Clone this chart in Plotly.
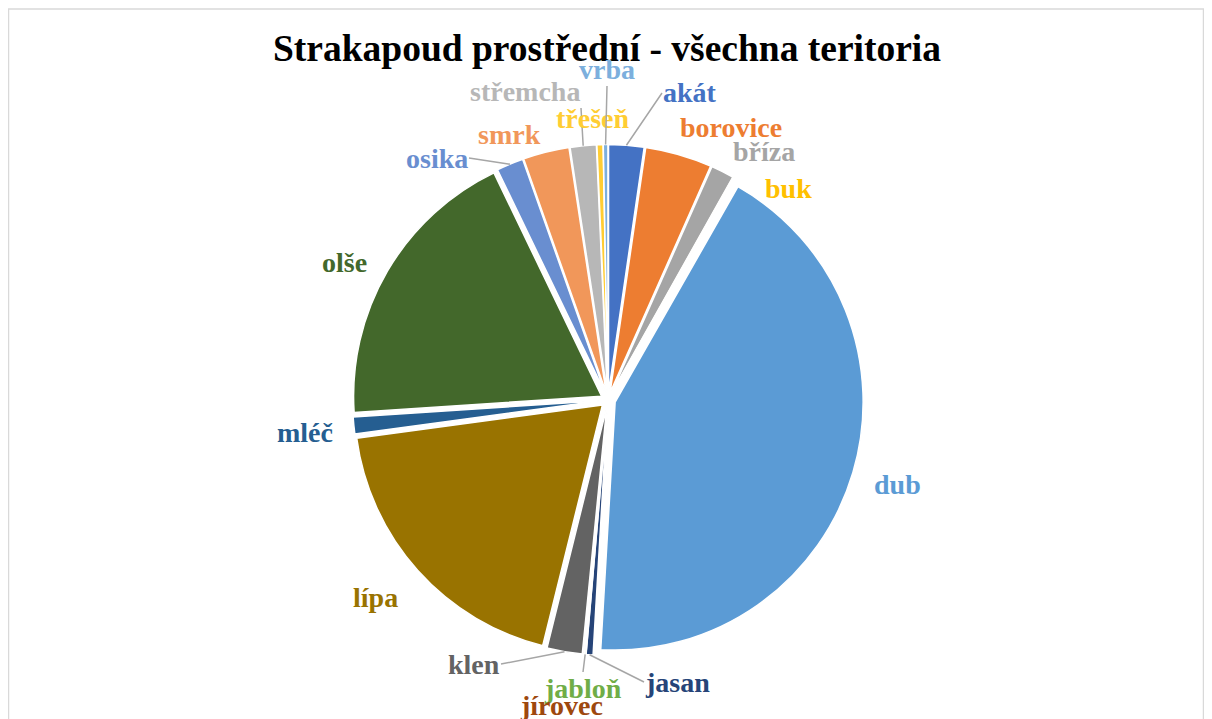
import numpy as np
import plotly.graph_objects as go

# druhy dřevin a jejich podíl (odhad z obrázku, %)
druhy = ['akát', 'borovice', 'bříza', 'buk', 'dub', 'jasan', 'jabloň', 'jírovec',
         'klen', 'lípa', 'mléč', 'olše', 'osika', 'smrk', 'střemcha', 'třešeň', 'vrba']
podil = [2.3, 4.35, 1.5, 0.1, 42.7, 0.45, 0.1, 0.1,
         2.3, 19.0, 1.1, 18.9, 1.75, 3.0, 1.7, 0.4, 0.3]
barvy = ['#4472C4', '#ED7D31', '#A5A5A5', '#FFC000', '#5B9BD5', '#264478', '#70AD47', '#9E480E',
         '#636363', '#997300', '#255E91', '#43682B', '#698ED0', '#F1975A', '#B7B7B7', '#FFCD33', '#7CAFDD']

# stránka má okraj 8 px, graf tedy posunutý
OFF = 8
W, H = 1212 - 2 * OFF, 719 - OFF
cx, cy, R = 608 - OFF, 400 - OFF, 248      # střed a poloměr koláče v px
pull = 0.03

# popisky - bod v px (souřadnice okna), odkazová čára, ukotvení textu
popisky = {
    'akát': (662, 93, True, 'left', 'middle'),
    'borovice': (731, 127, False, 'center', 'middle'),
    'bříza': (764, 152, False, 'center', 'middle'),
    'buk': (788, 188, False, 'center', 'middle'),
    'dub': (897, 484, False, 'center', 'middle'),
    'jasan': (644, 682, True, 'left', 'middle'),
    'jabloň': (583, 672, True, 'center', 'top'),
    'jírovec': (561, 705, False, 'center', 'middle'),
    'klen': (501, 664, True, 'right', 'middle'),
    'lípa': (375, 597, False, 'center', 'middle'),
    'mléč': (305, 432, False, 'center', 'middle'),
    'olše': (344, 262, False, 'center', 'middle'),
    'osika': (469, 158, True, 'right', 'middle'),
    'smrk': (509, 134, False, 'center', 'middle'),
    'střemcha': (581, 108, True, 'right', 'bottom'),
    'třešeň': (593, 118, False, 'center', 'middle'),
    'vrba': (607, 86, True, 'center', 'bottom'),
}

half = R * (1 + pull)
fig = go.Figure(go.Pie(
    labels=druhy,
    values=podil,
    sort=False,
    direction='clockwise',
    rotation=0,
    marker=dict(colors=barvy, line=dict(color='white', width=1.5)),
    pull=pull,
    textinfo='none',
    hoverinfo='label+percent',
    showlegend=False,
    automargin=False,
    domain=dict(x=[(cx - half) / W, (cx + half) / W],
                y=[(H - cy - half) / H, (H - cy + half) / H]),
))

# úhly středů výsečí (po směru hodin od vrcholu)
v = np.array(podil)
kum = np.cumsum(v) / v.sum() * 360
stred = kum - v / v.sum() * 360 / 2

anotace = []
for i, d in enumerate(druhy):
    tx, ty, cara, xa, ya = popisky[d]
    tx, ty = tx - OFF, ty - OFF
    font = dict(family='Liberation Serif', size=28, color=barvy[i])
    if cara:
        a = np.radians(stred[i])
        r = R * (1 + pull)
        px_ = cx + r * np.sin(a)
        py_ = cy - r * np.cos(a)
        anotace.append(dict(
            x=px_ / W, y=1 - py_ / H, xref='paper', yref='paper',
            ax=tx - px_, ay=ty - py_, showarrow=True, arrowhead=0,
            xanchor=xa, yanchor=ya, borderpad=0,
            arrowwidth=1.5, arrowcolor='#A6A6A6', standoff=0,
            text='<b>' + d + '</b>', font=font))
    else:
        anotace.append(dict(
            x=tx / W, y=1 - ty / H, xref='paper', yref='paper',
            xanchor=xa, yanchor=ya, showarrow=False,
            text='<b>' + d + '</b>', font=font))

fig.update_layout(
    width=W, height=H,
    paper_bgcolor='white',
    title=dict(text='<b>Strakapoud prostřední - všechna teritoria</b>',
               font=dict(family='Liberation Serif', size=37.5, color='black'),
               x=(607 - OFF) / W, xanchor='center', y=1 - (48 - OFF) / H, yanchor='middle'),
    margin=dict(t=0, b=0, l=0, r=0),
    annotations=anotace,
    shapes=[dict(type='rect', xref='paper', yref='paper',
                 x0=0.5 / W, x1=1 - 0.5 / W, y0=-0.05, y1=1 - 1 / H,
                 line=dict(color='#D9D9D9', width=1.5))],
)

fig.write_html("out.html")
